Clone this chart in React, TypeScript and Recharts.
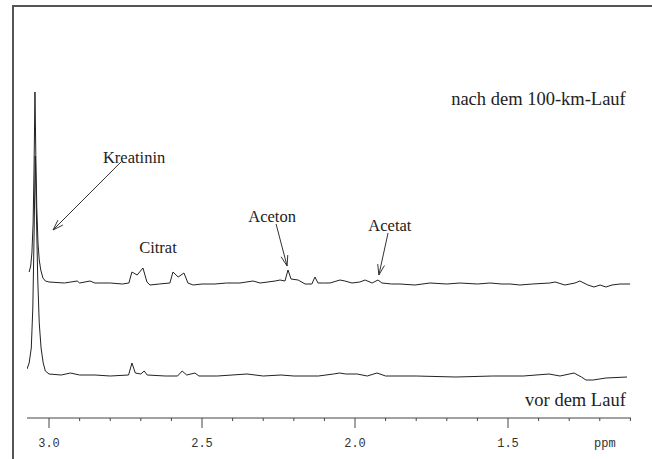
import React from "react";
import { LineChart, Line, XAxis, YAxis, ReferenceLine, ReferenceDot } from "recharts";

// Spectrum after the 100-km run (upper trace): [ppm, intensity]
const afterPpm = [
  3.065, 3.06, 3.056, 3.052, 3.049, 3.046, 3.043, 3.04, 3.036, 3.032, 3.027, 3.02, 3.012, 3.0,
  2.95, 2.908, 2.9, 2.866, 2.85, 2.8, 2.76, 2.739, 2.729, 2.712, 2.693, 2.68, 2.67, 2.64,
  2.605, 2.595, 2.578, 2.559, 2.546, 2.529, 2.5, 2.458, 2.42, 2.376, 2.333, 2.31, 2.261, 2.245,
  2.229, 2.219, 2.209, 2.186, 2.163, 2.141, 2.131, 2.121, 2.1, 2.082, 2.049, 2.033, 2.01,
  1.984, 1.967, 1.944, 1.925, 1.912, 1.88, 1.853, 1.804, 1.755, 1.7, 1.657, 1.6, 1.559, 1.52,
  1.493, 1.461, 1.42, 1.363, 1.346, 1.314, 1.281, 1.265, 1.239, 1.219, 1.199, 1.18, 1.16,
  1.134, 1.101,
];
const afterVal = [
  146, 152, 165, 195, 250, 326, 260, 210, 175, 158, 148, 140, 137, 136,
  135, 137, 135, 137, 135, 135, 134, 135, 146, 143, 150, 136, 133, 134,
  135, 146, 141, 145, 135, 133, 134, 134, 135, 135, 137, 135, 137, 138,
  137, 148, 139, 138, 134, 134, 141, 135, 135, 135, 138, 137, 135,
  136, 138, 135, 138, 135, 134, 134, 133, 135, 134, 135, 134, 135, 134,
  134, 133, 134, 135, 136, 133, 135, 137, 133, 131, 133, 131, 133,
  134, 134,
];

// Spectrum before the run (lower trace): [ppm, intensity]
const beforePpm = [
  3.072, 3.065, 3.058, 3.053, 3.049, 3.045, 3.041, 3.037, 3.032, 3.026, 3.019, 3.012, 3.0,
  2.96, 2.93, 2.9, 2.85, 2.8, 2.74, 2.729, 2.718, 2.7, 2.689, 2.679, 2.62, 2.58, 2.565, 2.55,
  2.523, 2.51, 2.45, 2.353, 2.3, 2.242, 2.2, 2.12, 2.07, 2.05, 2.03, 1.993, 1.96, 1.928, 1.9,
  1.8, 1.67, 1.55, 1.45, 1.366, 1.33, 1.284, 1.26, 1.245, 1.222, 1.18, 1.111,
];
const beforeVal = [
  49, 55, 70, 110, 180, 262, 200, 140, 95, 70, 55, 47, 44,
  43, 45, 43, 43, 42, 43, 55, 45, 44, 47, 43, 42, 42, 47, 43,
  45, 42, 42, 44, 42, 43, 42, 42, 44, 45, 44, 44, 42, 45, 42,
  42, 41, 42, 42, 44, 42, 45, 41, 38, 38, 40, 41,
];

const tickValues = [3.0, 2.9, 2.8, 2.7, 2.6, 2.5, 2.4, 2.3, 2.2, 2.1, 2.0, 1.9, 1.8, 1.7, 1.6, 1.5, 1.4, 1.3, 1.2, 1.1];
const majorTicks = ["3.0", "2.5", "2.0", "1.5"];
const unitLabel = "ppm";

const traceLabels = [
  { text: "nach dem 100-km-Lauf", ppm: 1.115, v: 319 },
  { text: "vor dem Lauf", ppm: 1.115, v: 18 },
];
const peakLabels = [
  { text: "Kreatinin", ppm: 2.722, v: 261 },
  { text: "Citrat", ppm: 2.644, v: 171 },
  { text: "Aceton", ppm: 2.271, v: 202 },
  { text: "Acetat", ppm: 1.886, v: 193 },
];
const arrows = [
  { from: [2.765, 256], to: [2.987, 188] },
  { from: [2.258, 194], to: [2.222, 152] },
  { from: [1.892, 185], to: [1.922, 143] },
];

const afterData = afterPpm.map((p, i) => ({ ppm: p, v: afterVal[i] }));
const beforeData = beforePpm.map((p, i) => ({ ppm: p, v: beforeVal[i] }));

const SERIF = "'Liberation Serif', 'Times New Roman', Times, serif";
const MONO = "'Liberation Mono', 'Courier New', Courier, monospace";
const INK = "#222";

const Tick = (props: any) => {
  const { x, y, payload } = props;
  const label = payload.value.toFixed(1);
  const major = majorTicks.includes(label);
  return (
    <g>
      <line x1={x} x2={x} y1={y} y2={y + (major ? 10 : 3)} stroke="#444" strokeWidth={1} />
      {major && (
        <text x={x} y={y + 29} textAnchor="middle" fontFamily={MONO} fontSize={12} fill="#333">
          {label}
        </text>
      )}
      {label === "1.2" && (
        <text x={x + 5} y={y + 29} textAnchor="middle" fontFamily={MONO} fontSize={12} fill="#333">
          {unitLabel}
        </text>
      )}
    </g>
  );
};

const Arrow = (props: any) => {
  const { x1, y1, x2, y2 } = props;
  const ang = Math.atan2(y2 - y1, x2 - x1);
  const len = 11;
  const spread = 0.32;
  const ax = x2 - len * Math.cos(ang - spread);
  const ay = y2 - len * Math.sin(ang - spread);
  const bx = x2 - len * Math.cos(ang + spread);
  const by = y2 - len * Math.sin(ang + spread);
  return (
    <g stroke="#333" strokeWidth={1} fill="none">
      <line x1={x1} y1={y1} x2={x2} y2={y2} />
      <polyline points={`${ax},${ay} ${x2},${y2} ${bx},${by}`} />
    </g>
  );
};

export default function App() {
  return (
    <div style={{ position: "absolute", left: 0, top: 0, width: 652, height: 459, background: "#fff" }}>
      <div
        style={{
          position: "absolute",
          left: 12,
          top: 5,
          width: 640,
          height: 454,
          borderTop: "2px solid #555",
          borderLeft: "2px solid #555",
          boxSizing: "border-box",
        }}
      />
      <div style={{ position: "absolute", left: 0, top: 0 }}>
        <LineChart width={652} height={459} margin={{ top: 20, right: 21, left: 27, bottom: 0 }}>
          <XAxis
            type="number"
            dataKey="ppm"
            domain={[1.098, 3.072]}
            reversed
            allowDataOverflow
            ticks={tickValues}
            interval={0}
            tickLine={false}
            tickSize={0}
            tickMargin={0}
            axisLine={{ stroke: "#444", strokeWidth: 1 }}
            tick={<Tick />}
            height={41}
          />
          <YAxis type="number" domain={[0, 398]} hide allowDataOverflow />
          <Line
            data={afterData}
            dataKey="v"
            type="linear"
            stroke={INK}
            strokeWidth={1}
            dot={false}
            isAnimationActive={false}
          />
          <Line
            data={beforeData}
            dataKey="v"
            type="linear"
            stroke={INK}
            strokeWidth={1}
            dot={false}
            isAnimationActive={false}
          />
          {arrows.map((a, i) => (
            <ReferenceLine
              key={"a" + i}
              segment={[
                { x: a.from[0], y: a.from[1] },
                { x: a.to[0], y: a.to[1] },
              ]}
              ifOverflow="visible"
              shape={(p: any) => <Arrow {...p} />}
            />
          ))}
          {traceLabels.map((l, i) => (
            <ReferenceDot
              key={"t" + i}
              x={l.ppm}
              y={l.v}
              r={0}
              ifOverflow="visible"
              shape={(p: any) => (
                <text x={p.cx} y={p.cy} textAnchor="end" dominantBaseline="central" fontFamily={SERIF} fontSize={18.5} fill="#222">
                  {l.text}
                </text>
              )}
            />
          ))}
          {peakLabels.map((l, i) => (
            <ReferenceDot
              key={"p" + i}
              x={l.ppm}
              y={l.v}
              r={0}
              ifOverflow="visible"
              shape={(p: any) => (
                <text x={p.cx} y={p.cy} textAnchor="middle" dominantBaseline="central" fontFamily={SERIF} fontSize={16.5} fill="#222">
                  {l.text}
                </text>
              )}
            />
          ))}
        </LineChart>
      </div>
    </div>
  );
}
